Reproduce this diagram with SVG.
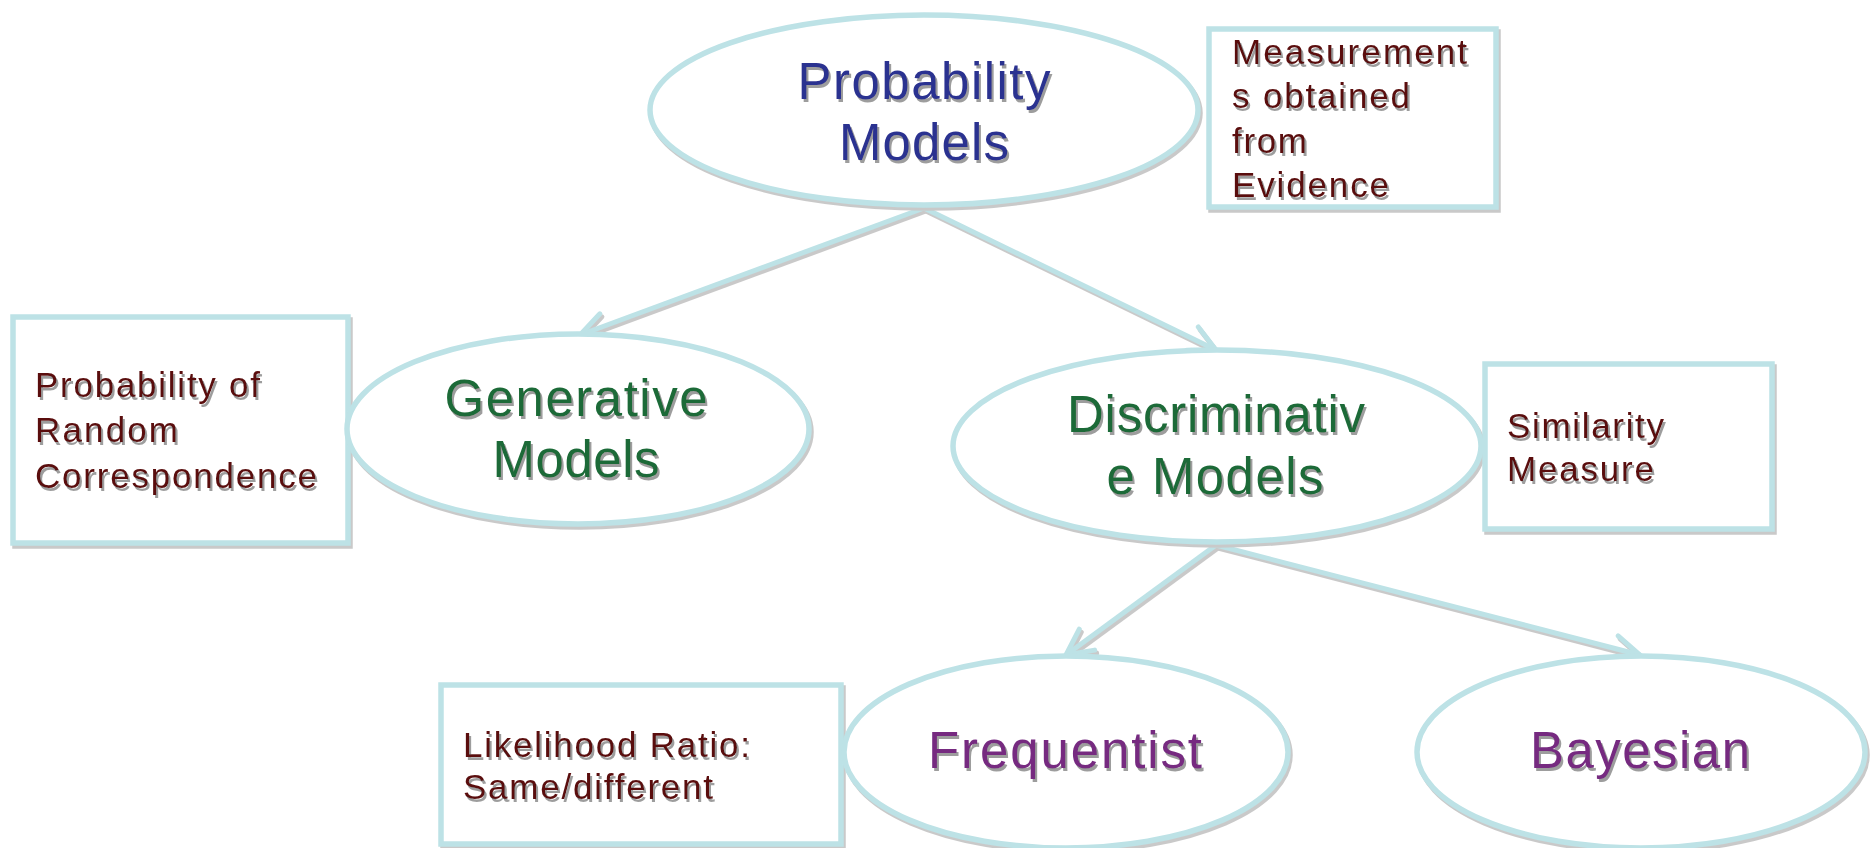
<svg xmlns="http://www.w3.org/2000/svg" width="1875" height="848" viewBox="0 0 1875 848">
<defs>
<filter id="sh" x="-10%" y="-10%" width="130%" height="130%">
<feDropShadow dx="2" dy="3" stdDeviation="0.6" flood-color="#c9c9c9" flood-opacity="1"/>
</filter>
<filter id="tsh" x="-10%" y="-10%" width="130%" height="140%">
<feDropShadow dx="2" dy="3" stdDeviation="0.7" flood-color="#8c8c8c" flood-opacity="0.85"/>
</filter>
<marker id="arr" markerUnits="userSpaceOnUse" markerWidth="40" markerHeight="40" viewBox="-30 -20 40 40" refX="0" refY="0" orient="auto">
<path d="M-26,-13 L0,0 L-26,13" fill="none" stroke="#bde2e6" stroke-width="5" stroke-linecap="round" stroke-linejoin="miter"/>
</marker>
<style>
.shp{fill:#ffffff;stroke:#bde2e6;stroke-width:5.5;filter:url(#sh)}
.big{font-family:"Liberation Sans",Arial,sans-serif;font-size:51px;text-anchor:middle;filter:url(#tsh)}
.sm{font-family:"Liberation Sans",Arial,sans-serif;font-size:35px;fill:#5a0d0d;filter:url(#tsh)}
.blue{fill:#2b3190}
.green{fill:#1b6b37}
.purple{fill:#762a80}
.con{fill:none;stroke:#bde2e6;stroke-width:5;marker-end:url(#arr)}
</style>
</defs>
<rect width="1875" height="848" fill="#ffffff"/>
<g id="connectors" filter="url(#sh)">
<line class="con" x1="924" y1="208" x2="580" y2="335"/>
<line class="con" x1="924" y1="208" x2="1216" y2="350"/>
<line class="con" x1="1216" y1="545" x2="1066" y2="655"/>
<line class="con" x1="1216" y1="545" x2="1640" y2="655"/>
</g>
<g id="probability-models">
<ellipse class="shp" cx="924" cy="110" rx="274" ry="95"/>
<text class="big blue" x="924" y="99" textLength="253" lengthAdjust="spacing">Probability</text>
<text class="big blue" x="924" y="160" textLength="170" lengthAdjust="spacing">Models</text>
</g>
<g id="measurements">
<rect class="shp" x="1209" y="29" width="287" height="178"/>
<text class="sm" x="1232" y="64" textLength="235" lengthAdjust="spacing">Measurement</text>
<text class="sm" x="1232" y="108" textLength="178" lengthAdjust="spacing">s obtained</text>
<text class="sm" x="1232" y="153" textLength="75" lengthAdjust="spacing">from</text>
<text class="sm" x="1232" y="197" textLength="157" lengthAdjust="spacing">Evidence</text>
</g>
<g id="random-correspondence">
<rect class="shp" x="13" y="317" width="335" height="226"/>
<text class="sm" x="35" y="397" textLength="225" lengthAdjust="spacing">Probability of</text>
<text class="sm" x="35" y="442" textLength="143" lengthAdjust="spacing">Random</text>
<text class="sm" x="35" y="488" textLength="282" lengthAdjust="spacing">Correspondence</text>
</g>
<g id="generative">
<ellipse class="shp" cx="578" cy="429" rx="231" ry="95"/>
<text class="big green" x="576" y="416" textLength="263" lengthAdjust="spacing">Generative</text>
<text class="big green" x="576" y="477" textLength="167" lengthAdjust="spacing">Models</text>
</g>
<g id="discriminative">
<ellipse class="shp" cx="1217" cy="446" rx="264" ry="96"/>
<text class="big green" x="1216" y="432" textLength="298" lengthAdjust="spacing">Discriminativ</text>
<text class="big green" x="1215" y="494" textLength="217" lengthAdjust="spacing">e Models</text>
</g>
<g id="similarity">
<rect class="shp" x="1485" y="364" width="287" height="165"/>
<text class="sm" x="1507" y="438" textLength="157" lengthAdjust="spacing">Similarity</text>
<text class="sm" x="1507" y="481" textLength="147" lengthAdjust="spacing">Measure</text>
</g>
<g id="likelihood">
<rect class="shp" x="441" y="685" width="400" height="159"/>
<text class="sm" x="463" y="757" textLength="287" lengthAdjust="spacing">Likelihood Ratio:</text>
<text class="sm" x="463" y="799" textLength="250" lengthAdjust="spacing">Same/different</text>
</g>
<g id="frequentist">
<ellipse class="shp" cx="1066" cy="752" rx="222" ry="96"/>
<text class="big purple" x="1065" y="768" textLength="274" lengthAdjust="spacing">Frequentist</text>
</g>
<g id="bayesian">
<ellipse class="shp" cx="1641" cy="752" rx="224" ry="96"/>
<text class="big purple" x="1640" y="768" textLength="220" lengthAdjust="spacing">Bayesian</text>
</g>
</svg>
